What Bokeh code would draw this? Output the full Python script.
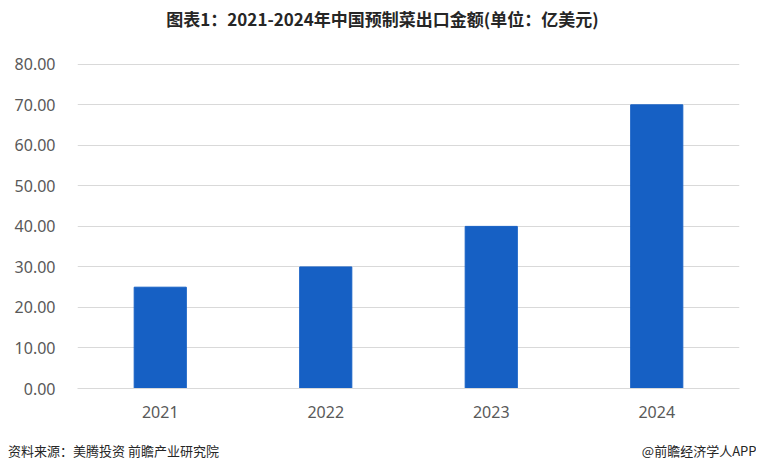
from bokeh.plotting import figure
from bokeh.models import FixedTicker, NumeralTickFormatter, Range1d, LinearAxis
from bokeh.embed import file_html
from bokeh.resources import INLINE

years = ["2021", "2022", "2023", "2024"]
values = [25, 30, 40, 70]
y_ticks = [0, 10, 20, 30, 40, 50, 60, 70, 80]
title_text = "图表1：2021-2024年中国预制菜出口金额(单位：亿美元)"
source_text = "资料来源：美腾投资 前瞻产业研究院"
brand_text = "@前瞻经济学人APP"

W, H = 756, 467
CJK = "Noto Sans CJK SC"
FL, FR, FT, FB = 77, 739, 63, 388   # frame edges in canvas pixels

xpos = list(range(len(years)))
p = figure(width=W, height=H, output_backend="svg",
           toolbar_location=None, min_border_left=FL, min_border_right=W - FR,
           min_border_top=FT, min_border_bottom=H - FB)
p.x_range = Range1d(-0.5, len(years) - 0.5)
p.y_range = Range1d(0, 80.2)
p.extra_x_ranges = {"px": Range1d(FL, FR)}
p.vbar(x=xpos, top=values, width=0.315, color="#1660C4")

p.outline_line_color = None
p.xgrid.grid_line_color = None
p.ygrid.grid_line_color = "#d9d9d9"
p.ygrid.grid_line_width = 1.2

p.yaxis.ticker = FixedTicker(ticks=y_ticks)
p.yaxis.formatter = NumeralTickFormatter(format="0.00")
p.yaxis.axis_line_color = None
p.yaxis.major_tick_line_color = None
p.yaxis.minor_tick_line_color = None
p.yaxis.major_tick_out = 0
p.yaxis.major_label_standoff = 22
p.yaxis.major_label_text_font = "Noto Sans"
p.yaxis.major_label_text_font_size = "16px"
p.yaxis.major_label_text_color = "#595959"

p.xaxis.ticker = FixedTicker(ticks=xpos)
p.xaxis.major_label_overrides = dict(zip(xpos, years))
p.xaxis.axis_line_color = "#d9d9d9"
p.xaxis.axis_line_width = 1.2
p.xaxis.major_tick_line_color = None
p.xaxis.minor_tick_line_color = None
p.xaxis.major_label_standoff = 11
p.xaxis.major_label_text_font = "Noto Sans"
p.xaxis.major_label_text_font_size = "16px"
p.xaxis.major_label_text_color = "#595959"


def text_axis(ticks, labels, size, bold, standoff):
    ax = LinearAxis(x_range_name="px", ticker=FixedTicker(ticks=ticks),
                    major_label_overrides=dict(zip(ticks, labels)))
    ax.axis_line_color = None
    ax.major_tick_line_color = None
    ax.minor_tick_line_color = None
    ax.major_tick_out = 0
    ax.major_tick_in = 0
    ax.major_label_standoff = standoff
    ax.major_label_text_font = CJK
    ax.major_label_text_font_size = size
    ax.major_label_text_font_style = "bold" if bold else "normal"
    ax.major_label_text_color = "#262626"
    return ax


# title above the chart, footer line below it
p.add_layout(text_axis([382], [title_text], "17px", True, 33), "above")
p.add_layout(text_axis([113, 699], [source_text, brand_text], "13px", False, 20), "below")

open("out.html", "w").write(file_html(p, INLINE))
